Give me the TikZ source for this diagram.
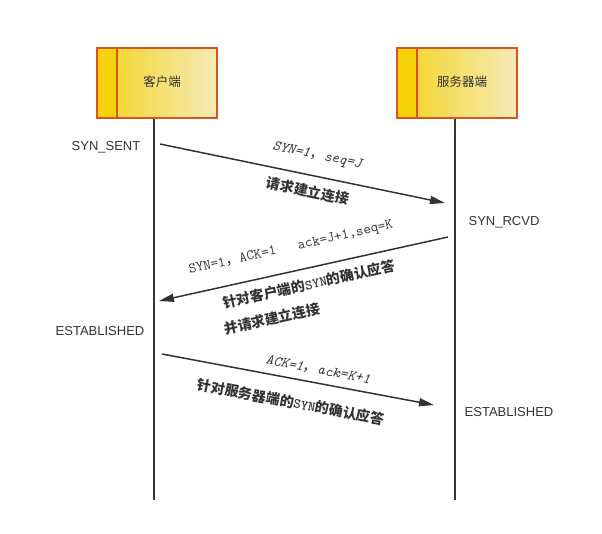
\documentclass[tikz,border=0pt]{standalone}
\usepackage{fontspec}
\setmainfont{Liberation Sans}
\newfontfamily\cjk{Noto Sans CJK SC}
\usetikzlibrary{arrows.meta}
\definecolor{bordc}{HTML}{D9541E}
\definecolor{stripc}{HTML}{F5D20B}
\definecolor{gradl}{HTML}{F3D31E}
\definecolor{gradr}{HTML}{F6EBB9}
\definecolor{txt}{HTML}{333333}
\tikzset{
  box/.style={rectangle, minimum width=120pt, minimum height=70pt, left color=gradl, right color=gradr, draw=bordc, line width=2pt, inner sep=0pt},
  boxlbl/.style={text=txt, font=\cjk\fontsize{12.5}{14}\selectfont},
  life/.style={draw=txt, line width=1.5pt},
  msg/.style={draw=txt, line width=1.5pt, -{Triangle[length=15pt,width=8pt]}},
  state/.style={text=txt, font=\fontsize{13}{15}\selectfont},
  mlbl/.style={text=txt, font=\ttfamily\fontsize{14.5}{16}\selectfont, inner sep=0pt},
  clbl/.style={text=txt, font=\cjk\bfseries\fontsize{14}{16}\selectfont, inner sep=0pt},
}
\begin{document}
\begin{tikzpicture}[x=1pt,y=-1pt]
\useasboundingbox[fill=white] (0,0) rectangle (602,533);
% boxes
\node[box] (client) at (157,83) {};
\fill[stripc] (98,49) rectangle (117,117);
\draw[bordc, line width=2pt] (117,48) -- (117,118);
\node[boxlbl] (clientlbl) at (162,82) {客户端};
\node[box] (server) at (457,83) {};
\fill[stripc] (398,49) rectangle (417,117);
\draw[bordc, line width=2pt] (417,48) -- (417,118);
\node[boxlbl] (serverlbl) at (462,82) {服务器端};
% lifelines
\coordinate (ct) at (154,119);
\coordinate (cb) at (154,500);
\coordinate (st) at (455,119);
\coordinate (sb) at (455,500);
\draw[life] (ct) -- (cb);
\draw[life] (st) -- (sb);
% states
\node[state] (s1) at (106,147) {SYN\_SENT};
\node[state] (s2) at (504,222) {SYN\_RCVD};
\node[state] (s3) at (100,331) {ESTABLISHED};
\node[state] (s4) at (509,412) {ESTABLISHED};
% message 1
\coordinate (a1) at (160,144);
\coordinate (b1) at (445,203);
\draw[msg] (a1) -- (b1);
\node[mlbl, rotate=-11.7] (l1a) at (317,156) {\itshape SYN=1{\cjk ，}seq=J};
\node[clbl, rotate=-11.7] (l1b) at (308,191) {请求建立连接};
% message 2
\coordinate (a2) at (448,237);
\coordinate (b2) at (159,301);
\draw[msg] (a2) -- (b2);
\node[mlbl, rotate=12.6] (l2a) at (291,248) {SYN=1{\cjk ，}ACK=1\ \ \ ack=J+1,seq=K};
\node[clbl, rotate=12.6] (l2b) at (309,284) {针对客户端的{\ttfamily\bfseries SYN}的确认应答};
\node[clbl, rotate=12.6] (l2c) at (272,319) {并请求建立连接};
% message 3
\coordinate (a3) at (162,354);
\coordinate (b3) at (434,405);
\draw[msg] (a3) -- (b3);
\node[mlbl, rotate=-10.7] (l3a) at (318,370) {\itshape ACK=1{\cjk ，}ack=K+1};
\node[clbl, rotate=-10.7] (l3b) at (291,402) {针对服务器端的{\ttfamily\bfseries SYN}的确认应答};
\end{tikzpicture}
\end{document}
